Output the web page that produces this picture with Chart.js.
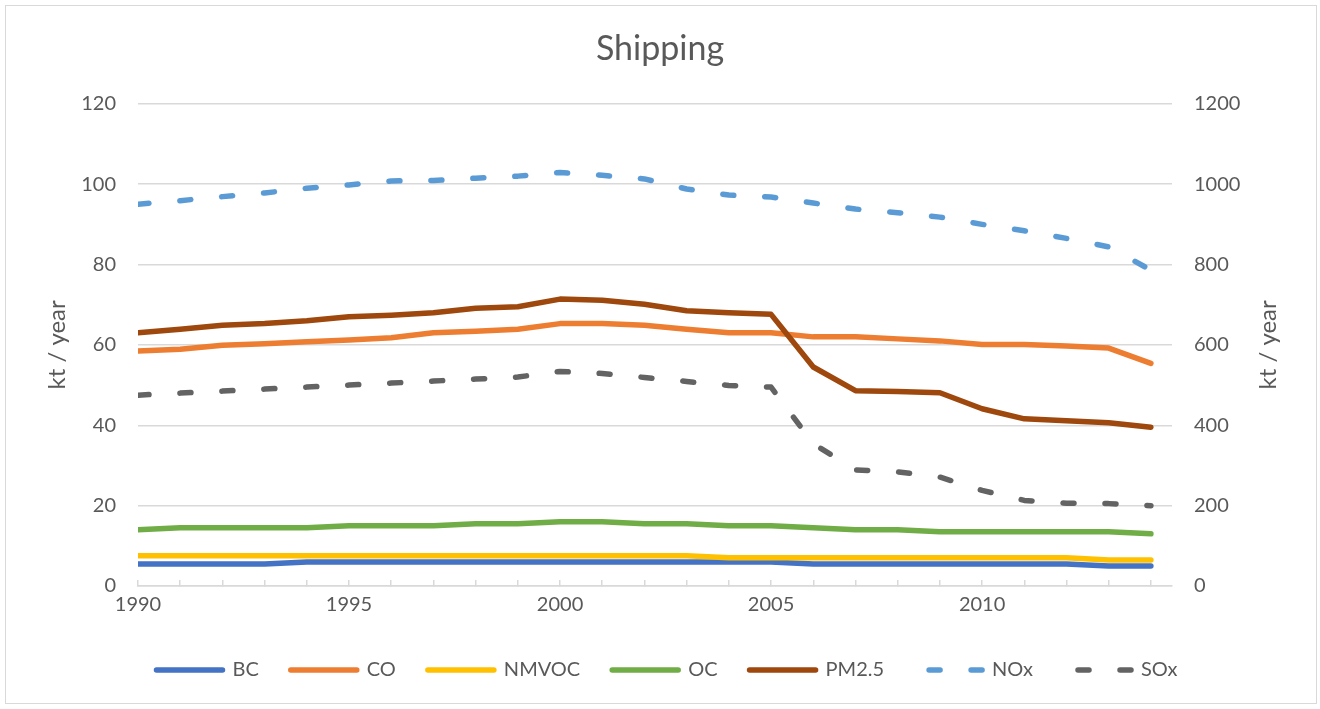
<!DOCTYPE html>
<html>
<head>
<meta charset="utf-8">
<title>Shipping</title>
<script src="https://cdn.jsdelivr.net/npm/chart.js@4.4.1/dist/chart.umd.min.js"></script>
<style>
  html, body { margin: 0; padding: 0; background: #ffffff; }
  #frame { position: absolute; left: 5px; top: 5px; width: 1312px; height: 699px;
           border: 1px solid #d9d9d9; box-sizing: border-box; }
  #chart { position: absolute; left: 0; top: 0; }
</style>
</head>
<body>
<div id="frame"></div>
<canvas id="chart" width="1320" height="709"></canvas>
<script>
// Emission years
const years = [1990, 1991, 1992, 1993, 1994, 1995, 1996, 1997, 1998, 1999,
               2000, 2001, 2002, 2003, 2004, 2005, 2006, 2007, 2008, 2009,
               2010, 2011, 2012, 2013, 2014];

// Left axis series (kt / year)
const BC    = [5.5, 5.5, 5.5, 5.5, 6.0, 6.0, 6.0, 6.0, 6.0, 6.0, 6.0, 6.0, 6.0,
               6.0, 6.0, 6.0, 5.5, 5.5, 5.5, 5.5, 5.5, 5.5, 5.5, 5.0, 5.0];
const CO    = [58.5, 58.9, 59.9, 60.3, 60.8, 61.2, 61.8, 63.0, 63.4, 63.9, 65.3, 65.3, 64.9,
               63.9, 63.0, 63.0, 62.0, 62.0, 61.5, 61.0, 60.1, 60.1, 59.7, 59.2, 55.4];
const NMVOC = [7.5, 7.5, 7.5, 7.5, 7.5, 7.5, 7.5, 7.5, 7.5, 7.5, 7.5, 7.5, 7.5,
               7.5, 7.0, 7.0, 7.0, 7.0, 7.0, 7.0, 7.0, 7.0, 7.0, 6.5, 6.5];
const OC    = [14.0, 14.5, 14.5, 14.5, 14.5, 15.0, 15.0, 15.0, 15.5, 15.5, 16.0, 16.0, 15.5,
               15.5, 15.0, 15.0, 14.5, 14.0, 14.0, 13.5, 13.5, 13.5, 13.5, 13.5, 13.0];
const PM25  = [63.0, 63.9, 64.9, 65.3, 66.0, 67.0, 67.4, 68.0, 69.1, 69.5, 71.4, 71.1, 70.1,
               68.5, 68.0, 67.6, 54.5, 48.6, 48.4, 48.1, 44.1, 41.6, 41.1, 40.6, 39.5];

// Right axis series (kt / year)
const NOx   = [950, 959, 969, 978, 990, 998, 1008, 1009, 1015, 1020, 1029, 1022, 1013,
               988, 973, 968, 953, 938, 929, 918, 900, 884, 865, 844, 786];
const SOx   = [475, 480, 485, 490, 495, 500, 505, 510, 515, 520, 534, 529, 519,
               509, 499, 495, 354, 289, 284, 271, 238, 213, 206, 205, 200];

// Axis ticks
const leftTicks  = [0, 20, 40, 60, 80, 100, 120];
const rightTicks = [0, 200, 400, 600, 800, 1000, 1200];
const yearLabels = [1990, 1995, 2000, 2005, 2010];

const FONT = 'Lato, "Open Sans", "Noto Sans", sans-serif';
const TEXT = '#595959';
const GRID = '#d9d9d9';
const DASH = [11, 31];

const pts = arr => arr.map((v, i) => ({ x: years[i], y: v }));

function series(label, values, color, axis, order, dashed) {
  return {
    label, data: pts(values), yAxisID: axis, order,
    borderColor: color, backgroundColor: color,
    borderWidth: 5.5, borderCapStyle: 'round', borderJoinStyle: 'round',
    borderDash: dashed ? DASH : [],
    pointRadius: 0, pointHoverRadius: 0, tension: 0, fill: false
  };
}

const datasets = [
  series('BC',    BC,    '#4472C4', 'y',  7, false),
  series('CO',    CO,    '#ED7D31', 'y',  6, false),
  series('NMVOC', NMVOC, '#FFC000', 'y',  5, false),
  series('OC',    OC,    '#70AD47', 'y',  4, false),
  series('PM2.5', PM25,  '#9E480E', 'y',  3, false),
  series('NOx',   NOx,   '#5B9BD5', 'y1', 2, true),
  series('SOx',   SOx,   '#636363', 'y1', 1, true)
];

// Right-hand axis title, reading bottom to top like the left one
const rightTitle = {
  id: 'rightTitle',
  afterDraw(chart) {
    const { ctx, chartArea } = chart;
    ctx.save();
    ctx.translate(1268, (chartArea.top + chartArea.bottom) / 2);
    ctx.rotate(-Math.PI / 2);
    ctx.fillStyle = TEXT;
    ctx.font = '24px ' + FONT;
    ctx.textAlign = 'center';
    ctx.textBaseline = 'middle';
    ctx.fillText('kt / year', 0, 0);
    ctx.restore();
  }
};

// Nudge the legend row slightly to the right of centre
const legendShift = {
  id: 'legendShift',
  afterLayout(chart) {
    if (chart.legend) {
      chart.legend.left += 7;
      chart.legend.right += 7;
    }
  }
};

const LEG_W = 66;

new Chart(document.getElementById('chart'), {
  type: 'line',
  data: { datasets },
  plugins: [rightTitle, legendShift],
  options: {
    responsive: false,
    animation: false,
    layout: { padding: { left: 0, right: 0, top: 0, bottom: 19 } },
    plugins: {
      tooltip: { enabled: false },
      title: {
        display: true, text: 'Shipping', color: TEXT,
        font: { family: FONT, size: 34, weight: 'normal' },
        padding: { top: 29, bottom: 34 }
      },
      legend: {
        position: 'bottom',
        labels: {
          color: TEXT,
          font: { family: FONT, size: 20 },
          usePointStyle: true, pointStyle: 'line', pointStyleWidth: LEG_W,
          padding: 32,
          sort: (a, b) => a.datasetIndex - b.datasetIndex,
          generateLabels(chart) {
            const items = Chart.defaults.plugins.legend.labels.generateLabels(chart);
            items.forEach(it => {
              const ds = chart.data.datasets[it.datasetIndex];
              it.lineWidth = ds.borderWidth;
              it.lineCap = 'round';
              if (ds.borderDash.length) {
                // two short dashes across the legend sample
                it.lineDash = [11, 31, 11, 231];
                it.lineDashOffset = 284 - 13;
              } else {
                it.lineDash = [];
              }
            });
            return items;
          }
        }
      }
    },
    scales: {
      x: {
        type: 'linear', min: 1990, max: 2014.5,
        afterBuildTicks: s => { s.ticks = years.map(v => ({ value: v })); },
        afterFit: s => { s.height = 42; },
        ticks: {
          autoSkip: false, maxRotation: 0, padding: 13, color: TEXT,
          font: { family: FONT, size: 20 },
          callback: v => yearLabels.includes(v) ? String(v) : ''
        },
        grid: { drawOnChartArea: false, drawTicks: true, tickLength: -6, color: GRID, lineWidth: 1.5 },
        border: { display: true, color: GRID, width: 1.5 }
      },
      y: {
        position: 'left', min: 0, max: 120,
        afterBuildTicks: s => { s.ticks = leftTicks.map(v => ({ value: v })); },
        afterFit: s => { s.width = 138; },
        ticks: { padding: 22, color: TEXT, font: { family: FONT, size: 20 }, callback: v => String(v) },
        grid: { color: GRID, lineWidth: 1.5, drawTicks: false },
        border: { display: false },
        title: {
          display: true, text: 'kt / year', color: TEXT,
          font: { family: FONT, size: 24 }, padding: { top: 42.6, bottom: 0 }
        }
      },
      y1: {
        position: 'right', min: 0, max: 1200,
        afterBuildTicks: s => { s.ticks = rightTicks.map(v => ({ value: v })); },
        afterFit: s => { s.width = 148; },
        ticks: { padding: 22, color: TEXT, font: { family: FONT, size: 20 }, callback: v => String(v) },
        grid: { drawOnChartArea: false, drawTicks: false },
        border: { display: false }
      }
    }
  }
});
</script>
</body>
</html>
